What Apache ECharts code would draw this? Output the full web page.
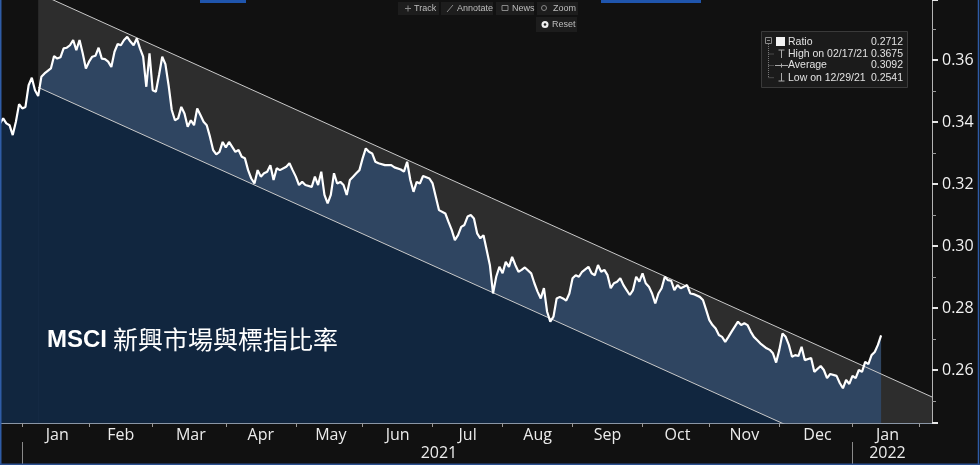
<!DOCTYPE html>
<html><head><meta charset="utf-8">
<script src="https://cdn.jsdelivr.net/npm/echarts@6/dist/echarts.min.js"></script>
<style>html,body{margin:0;padding:0;background:#111111;}#c{width:980px;height:465px;}</style>
</head><body><div id="c"></div>
<script>
// ---- data ----
const startDate = '2020-12-23';
const endDate = '2022-02-07';
const monthNames = ['Jan','Feb','Mar','Apr','May','Jun','Jul','Aug','Sep','Oct','Nov','Dec'];
const yearLabels = ['2021','2022'];
const obsIdx = [0,1,2,3,4,5,6,7,8,9,10,11,12,13,14,16,17,18,19,20,21,22,23,24,25,26,27,28,29,30,31,32,33,34,35,36,37,38,39,40,41,42,43,44,45,46,47,48,49,50,51,52,53,54,55,56,57,58,59,60,61,62,63,64,65,66,67,68,69,70,71,72,74,75,76,77,78,79,80,81,82,83,84,85,86,87,88,90,91,92,93,94,95,96,98,99,100,101,102,103,104,105,106,107,108,109,110,111,112,113,114,115,116,117,118,119,121,123,124,126,127,128,129,130,131,132,133,135,136,137,138,140,141,142,143,144,145,146,147,148,149,150,151,152,153,154,155,156,157,158,159,160,161,162,163,164,165,167,168,169,170,171,172,173,174,175,176,177,178,179,180,181,182,183,185,186,187,188,189,190,191,192,193,194,195,196,197,198,199,200,201,202,203,204,205,206,207,208,209,210,211,212,213,214,215,216,217,218,220,221,222,223,224,225,226,227,228,229,230,231,232,233,234,235,236,237,238,239,241,242,243,244,245,246,247,248,249,250,251,252,253,255,256,258,259,260,261,263,264,265,266,267,268,269,270,271,272,273,274,275,276,277];
const ratio = [0.3396,0.3412,0.3396,0.3390,0.3358,0.3401,0.3458,0.3444,0.3449,0.3519,0.3543,0.3503,0.3484,0.3546,0.3557,0.3573,0.3613,0.3605,0.3609,0.3638,0.3640,0.3648,0.3665,0.3632,0.3665,0.3622,0.3573,0.3595,0.3611,0.3614,0.3640,0.3605,0.3603,0.3595,0.3578,0.3627,0.3652,0.3648,0.3665,0.3675,0.3660,0.3648,0.3670,0.3638,0.3611,0.3514,0.3622,0.3503,0.3498,0.3552,0.3611,0.3587,0.3519,0.3439,0.3406,0.3412,0.3449,0.3428,0.3385,0.3406,0.3390,0.3444,0.3423,0.3401,0.3390,0.3353,0.3310,0.3296,0.3304,0.3336,0.3318,0.3336,0.3304,0.3310,0.3288,0.3283,0.3245,0.3218,0.3202,0.3245,0.3224,0.3235,0.3240,0.3261,0.3213,0.3251,0.3245,0.3256,0.3267,0.3245,0.3224,0.3197,0.3207,0.3197,0.3191,0.3224,0.3197,0.3240,0.3165,0.3138,0.3165,0.3235,0.3202,0.3207,0.3197,0.3165,0.3213,0.3224,0.3235,0.3245,0.3283,0.3315,0.3304,0.3299,0.3272,0.3267,0.3261,0.3261,0.3254,0.3247,0.3240,0.3272,0.3213,0.3175,0.3207,0.3202,0.3226,0.3218,0.3202,0.3159,0.3116,0.3105,0.3078,0.3052,0.3019,0.3035,0.3062,0.3068,0.3095,0.3100,0.3089,0.3041,0.3025,0.3035,0.2987,0.2939,0.2847,0.2901,0.2933,0.2912,0.2949,0.2933,0.2965,0.2939,0.2917,0.2923,0.2931,0.2912,0.2880,0.2853,0.2831,0.2864,0.2788,0.2756,0.2772,0.2831,0.2836,0.2831,0.2824,0.2847,0.2896,0.2906,0.2901,0.2917,0.2933,0.2912,0.2906,0.2939,0.2917,0.2923,0.2906,0.2864,0.2880,0.2885,0.2896,0.2874,0.2858,0.2842,0.2858,0.2901,0.2885,0.2912,0.2880,0.2869,0.2847,0.2815,0.2847,0.2864,0.2901,0.2890,0.2888,0.2858,0.2874,0.2864,0.2869,0.2874,0.2847,0.2845,0.2836,0.2826,0.2794,0.2761,0.2745,0.2734,0.2713,0.2707,0.2691,0.2707,0.2724,0.2740,0.2756,0.2745,0.2751,0.2745,0.2724,0.2707,0.2697,0.2686,0.2670,0.2665,0.2654,0.2624,0.2665,0.2718,0.2707,0.2681,0.2643,0.2648,0.2645,0.2675,0.2632,0.2639,0.2594,0.2613,0.2600,0.2574,0.2587,0.2581,0.2558,0.2541,0.2568,0.2555,0.2581,0.2574,0.2600,0.2594,0.2626,0.2619,0.2648,0.2658,0.2681,0.2712];
// trend channel end points (trading-day index, value)
const upperIdx = [12, 293];
const upperVal = [0.3816, 0.2513];
const lowerIdx = [12, 260];
const lowerVal = [0.3512, 0.2363];
const legendLabels = ['Ratio','High on 02/17/21','Average','Low on 12/29/21'];
const legendValues = ['0.2712','0.3675','0.3092','0.2541'];
const titleLatin = 'MSCI';
const titleCJK = '新興市場與標指比率';
const toolbarLabels = ['Track','Annotate','News','Zoom','Reset'];

// ---- categories: weekdays ----
function weekdays(a, b) {
  const out = [];
  let d = new Date(a + 'T00:00:00Z');
  const e = new Date(b + 'T00:00:00Z');
  while (d <= e) {
    const w = d.getUTCDay();
    if (w !== 0 && w !== 6) out.push(d.toISOString().slice(0, 10));
    d = new Date(d.getTime() + 86400000);
  }
  return out;
}
const cats = weekdays(startDate, endDate);
const monthStarts = [];
for (let i = 1; i < cats.length; i++) if (cats[i].slice(0, 7) !== cats[i - 1].slice(0, 7)) monthStarts.push(i);
const monthStartSet = new Set(monthStarts);
const monthLabelSet = new Set();
for (let k = 0; k + 1 < monthStarts.length; k++) monthLabelSet.add(Math.round((monthStarts[k] + monthStarts[k + 1]) / 2));
const yearStarts = monthStarts.filter(i => cats[i].slice(5, 7) === '01');
const yearStartSet = new Set(yearStarts);
const yearLabelMap = {};
yearLabels.forEach(y => {
  const s = cats.findIndex(c => c.startsWith(y));
  const nextStart = cats.findIndex(c => c.startsWith(String(+y + 1)));
  if (nextStart > 0) yearLabelMap[Math.round((s + nextStart) / 2)] = y;
  else {
    const ms = monthStarts.filter(i => i >= s);
    yearLabelMap[Math.round((ms[0] + ms[1]) / 2)] = y;
  }
});

const pricePts = obsIdx.map((i, k) => [cats[i], ratio[k]]);
const leftPts = pricePts.filter((p, k) => obsIdx[k] <= lowerIdx[0]);
const upperPts = upperIdx.map((i, k) => [cats[i], upperVal[k]]);
const lowerPts = lowerIdx.map((i, k) => [cats[i], lowerVal[k]]);

const NAVY = '#11263f', SLATE = '#2f4561', GRAY = '#2d2d2d';
const noLine = { width: 0, opacity: 0 };

// ---- graphics (toolbar, legend, title, frame) ----
const g = [];
const tf = '9px "Liberation Sans"';
const btns = [[398, 2, 41, 13], [441, 2, 52, 13], [496, 2, 38, 13], [537, 2, 41, 13], [536, 17, 41, 15]];
btns.forEach((b, k) => {
  g.push({ type: 'rect', shape: { x: b[0], y: b[1], width: b[2], height: b[3] }, style: { fill: '#1d1d1d' }, silent: true });
  g.push({ type: 'text', x: b[0] + 16, y: b[1] + b[3] / 2, style: { text: toolbarLabels[k], font: tf, fill: '#bdbdbd', verticalAlign: 'middle' }, silent: true });
});
g.push({ type: 'line', shape: { x1: 405, y1: 8.5, x2: 411, y2: 8.5 }, style: { stroke: '#888', lineWidth: 1 } });
g.push({ type: 'line', shape: { x1: 408, y1: 5.5, x2: 408, y2: 11.5 }, style: { stroke: '#888', lineWidth: 1 } });
g.push({ type: 'line', shape: { x1: 447, y1: 12, x2: 453, y2: 5 }, style: { stroke: '#888', lineWidth: 1 } });
g.push({ type: 'rect', shape: { x: 502, y: 5.5, width: 6, height: 5 }, style: { fill: null, stroke: '#888', lineWidth: 1 } });
g.push({ type: 'circle', shape: { cx: 544, cy: 8, r: 2.5 }, style: { fill: null, stroke: '#888', lineWidth: 1 } });
g.push({ type: 'circle', shape: { cx: 545, cy: 24.5, r: 3.5 }, style: { fill: '#eee' } });
g.push({ type: 'circle', shape: { cx: 545, cy: 24.5, r: 1.3 }, style: { fill: '#1d1d1d' } });
// top blue artifacts
g.push({ type: 'rect', shape: { x: 200, y: 0, width: 46, height: 3 }, style: { fill: '#1f55ad' } });
g.push({ type: 'rect', shape: { x: 601, y: 0, width: 100, height: 3 }, style: { fill: '#1f55ad' } });
// frame
g.push({ type: 'line', shape: { x1: 0.75, y1: 0, x2: 0.75, y2: 465 }, style: { stroke: '#2f5ca6', lineWidth: 1.5 }, z: 100 });
g.push({ type: 'line', shape: { x1: 978.5, y1: 0, x2: 978.5, y2: 465 }, style: { stroke: '#2f5ca6', lineWidth: 1.5 }, z: 100 });
g.push({ type: 'line', shape: { x1: 0, y1: 464.3, x2: 980, y2: 464.3 }, style: { stroke: '#2a4f8f', lineWidth: 1.5 }, z: 100 });
// legend box
g.push({ type: 'rect', shape: { x: 761.5, y: 31.5, width: 146, height: 56 }, style: { fill: '#1b1b1b', stroke: '#3a3a3a', lineWidth: 1 }, z: 50 });
g.push({ type: 'rect', shape: { x: 765.5, y: 37.5, width: 6, height: 6 }, style: { fill: null, stroke: '#888', lineWidth: 1 }, z: 51 });
g.push({ type: 'line', shape: { x1: 767, y1: 40.5, x2: 770, y2: 40.5 }, style: { stroke: '#888', lineWidth: 1 }, z: 51 });
g.push({ type: 'rect', shape: { x: 776, y: 37, width: 9, height: 9 }, style: { fill: '#f2f2f2' }, z: 51 });
g.push({ type: 'line', shape: { x1: 768.5, y1: 44, x2: 768.5, y2: 78 }, style: { stroke: '#777', lineWidth: 1, lineDash: [1, 1] }, z: 51 });
[54, 65.5, 77.7].forEach(y => g.push({ type: 'line', shape: { x1: 768.5, y1: y, x2: 774, y2: y }, style: { stroke: '#777', lineWidth: 1, lineDash: [1, 1] }, z: 51 }));
g.push({ type: 'line', shape: { x1: 781.5, y1: 50, x2: 781.5, y2: 58 }, style: { stroke: '#aaa', lineWidth: 1 }, z: 51 });
g.push({ type: 'line', shape: { x1: 778.5, y1: 50, x2: 784.5, y2: 50 }, style: { stroke: '#aaa', lineWidth: 1 }, z: 51 });
g.push({ type: 'line', shape: { x1: 775, y1: 65.5, x2: 788, y2: 65.5 }, style: { stroke: '#aaa', lineWidth: 1 }, z: 51 });
g.push({ type: 'line', shape: { x1: 781.5, y1: 63.5, x2: 781.5, y2: 67.5 }, style: { stroke: '#aaa', lineWidth: 1 }, z: 51 });
g.push({ type: 'line', shape: { x1: 781.5, y1: 73, x2: 781.5, y2: 81 }, style: { stroke: '#aaa', lineWidth: 1 }, z: 51 });
g.push({ type: 'line', shape: { x1: 778.5, y1: 81, x2: 784.5, y2: 81 }, style: { stroke: '#aaa', lineWidth: 1 }, z: 51 });
const rowY = [41.7, 54, 65.5, 77.7];
legendLabels.forEach((t, k) => {
  g.push({ type: 'text', x: 788, y: rowY[k], z: 52, style: { text: t, font: '10.5px "Liberation Sans"', fill: '#e2e2e2', verticalAlign: 'middle' } });
  g.push({ type: 'text', x: 903, y: rowY[k], z: 52, style: { text: legendValues[k], font: '10.5px "Liberation Sans"', fill: '#e2e2e2', align: 'right', verticalAlign: 'middle' } });
});
// title
g.push({ type: 'text', x: 47, y: 340, z: 60, style: { text: titleLatin, font: 'bold 24px "Liberation Sans"', fill: '#ffffff', verticalAlign: 'middle' } });
g.push({ type: 'text', x: 113, y: 339, z: 60, style: { text: titleCJK, font: '25px "Noto Sans CJK TC"', fill: '#ffffff', verticalAlign: 'middle' } });

const axisFont = '"Open Sans"';
const option = {
  backgroundColor: '#111111',
  animation: false,
  grid: { left: 0, right: 48, top: 0, bottom: 42 },
  xAxis: [{
    type: 'category', data: cats, boundaryGap: false,
    axisLine: { show: true, lineStyle: { color: '#8a96a6', width: 1 } },
    axisTick: { show: true, length: 4, interval: (i) => monthStartSet.has(i), lineStyle: { color: '#9a9a9a' } },
    axisLabel: { interval: (i) => monthLabelSet.has(i), margin: 4, color: '#ececec', fontSize: 16, fontFamily: axisFont,
      formatter: (v) => monthNames[+v.slice(5, 7) - 1] },
    splitLine: { show: false }
  }, {
    type: 'category', data: cats, boundaryGap: false, position: 'bottom', offset: 19,
    axisLine: { show: false },
    axisTick: { show: true, length: 22, interval: (i) => yearStartSet.has(i), lineStyle: { color: '#8a8a8a' } },
    axisLabel: { interval: (i) => yearLabelMap[i] !== undefined, margin: 3, color: '#ececec', fontSize: 16, fontFamily: axisFont,
      formatter: (v, i) => yearLabelMap[i] || '' },
    splitLine: { show: false }
  }],
  yAxis: {
    type: 'value', position: 'right', min: 0.2429, max: 0.3794, splitNumber: 6, scale: true,
    splitLine: { show: false },
    axisLine: { show: true, lineStyle: { color: '#b4b4b4' } },
    axisTick: { show: true, length: 6, lineStyle: { color: '#e6e6e6', width: 2 } },
    minorTick: { show: true, splitNumber: 2, length: 4, lineStyle: { color: '#9a9a9a' } },
    axisLabel: { margin: 10, color: '#f2f2f2', fontSize: 16, fontFamily: axisFont, showMinLabel: false, showMaxLabel: false,
      formatter: (v) => v.toFixed(2) }
  },
  series: [
    { name: 'channelBand', type: 'line', data: upperPts, symbol: 'none', z: 1, lineStyle: noLine,
      areaStyle: { color: GRAY, opacity: 1, origin: 'start' } },
    { name: 'ratioArea', type: 'line', data: pricePts, symbol: 'none', z: 2, lineStyle: noLine,
      areaStyle: { color: SLATE, opacity: 1, origin: 'start' } },
    { name: 'ratioAreaLeft', type: 'line', data: leftPts, symbol: 'none', z: 3, lineStyle: noLine,
      areaStyle: { color: NAVY, opacity: 1, origin: 'start' } },
    { name: 'lowerArea', type: 'line', data: lowerPts, symbol: 'none', z: 3, lineStyle: noLine,
      areaStyle: { color: NAVY, opacity: 1, origin: 'start' } },
    { name: 'upper', type: 'line', data: upperPts, symbol: 'none', z: 4, lineStyle: { color: '#c9c9c9', width: 1 } },
    { name: 'lower', type: 'line', data: lowerPts, symbol: 'none', z: 4, lineStyle: { color: '#c9c9c9', width: 1 } },
    { name: 'Ratio', type: 'line', data: pricePts, symbol: 'none', z: 5, lineStyle: { color: '#ffffff', width: 2.2 } }
  ],
  graphic: g
};
const chart = echarts.init(document.getElementById('c'), null, { renderer: 'canvas' });
chart.setOption(option);
</script>
</body></html>
